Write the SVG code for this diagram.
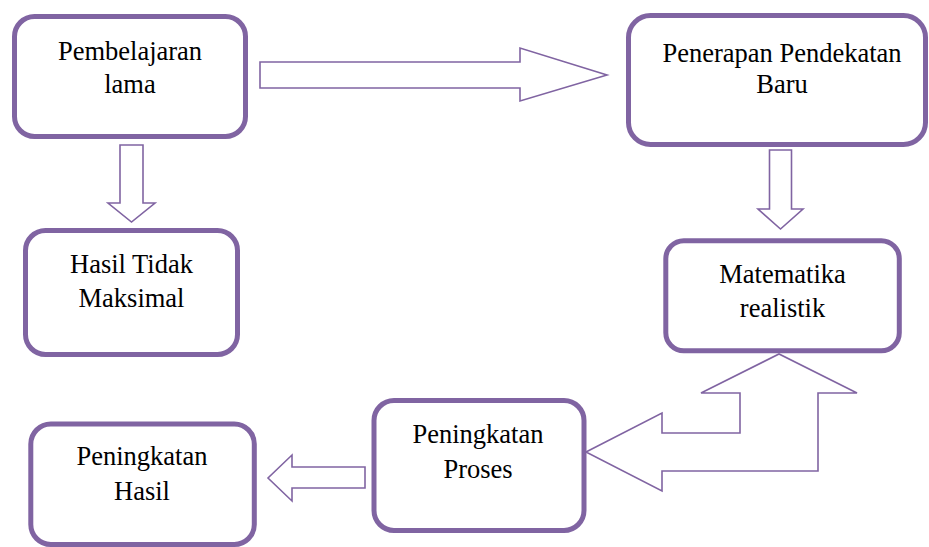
<svg xmlns="http://www.w3.org/2000/svg" width="929" height="547" viewBox="0 0 929 547">
<style>
.box{fill:#fff;stroke:#8064A2;stroke-width:5}
.arr{fill:#fff;stroke:#8064A2;stroke-width:1.6;stroke-linejoin:miter}
.t{font-family:"Liberation Serif",Tinos,"Times New Roman",Times,"Nimbus Roman","Nimbus Roman No9 L","Noto Serif","DejaVu Serif",FreeSerif,serif;font-size:26.5px;fill:#000;text-anchor:middle}
</style>
<rect width="929" height="547" fill="#fff"/>
<g id="connectors">
<polygon class="arr" points="260,62 520,62 520,48 607,75 520,101 520,88 260,88"/>
<polygon class="arr" points="120,145 143,145 143,203 155,203 131.5,222 108,203 120,203"/>
<polygon class="arr" points="769.5,150 791.5,150 791.5,209 803,209 780.5,229 758,209 769.5,209"/>
<polygon class="arr" points="365,467 365,488 292,488 292,501 268,478 292,455 292,467"/>
<polygon class="arr" points="586,452 662,413 662,433 740,433 740,393 701,393 779,354 857,393 818,393 818,471 662,471 662,491"/>
</g>
<g id="node-pembelajaran-lama">
<rect class="box" x="14.5" y="16.5" width="231" height="120" rx="20"/>
<text class="t" x="130" y="60">Pembelajaran</text>
<text class="t" x="130" y="93">lama</text>
</g>
<g id="node-hasil-tidak-maksimal">
<rect class="box" x="25.5" y="230.5" width="212" height="124" rx="20"/>
<text class="t" x="131.5" y="273">Hasil Tidak</text>
<text class="t" x="131.5" y="307">Maksimal</text>
</g>
<g id="node-penerapan-pendekatan-baru">
<rect class="box" x="628.5" y="15.5" width="297" height="129" rx="22"/>
<text class="t" x="782" y="62">Penerapan Pendekatan</text>
<text class="t" x="782" y="93">Baru</text>
</g>
<g id="node-matematika-realistik">
<rect class="box" x="665.8" y="240.8" width="233.5" height="110" rx="18"/>
<text class="t" x="782.5" y="283">Matematika</text>
<text class="t" x="782.5" y="317">realistik</text>
</g>
<g id="node-peningkatan-proses">
<rect class="box" x="374" y="400.5" width="210" height="130" rx="20"/>
<text class="t" x="478" y="443">Peningkatan</text>
<text class="t" x="478" y="478">Proses</text>
</g>
<g id="node-peningkatan-hasil">
<rect class="box" x="30.8" y="424" width="223.5" height="120.5" rx="20"/>
<text class="t" x="142" y="465">Peningkatan</text>
<text class="t" x="142" y="500">Hasil</text>
</g>
</svg>
